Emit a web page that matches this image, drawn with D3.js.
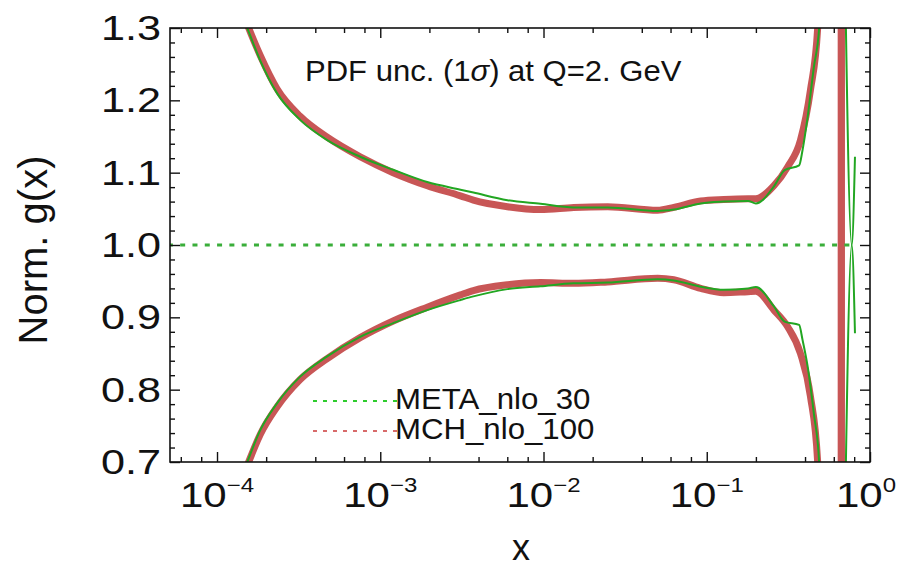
<!DOCTYPE html>
<html>
<head>
<meta charset="utf-8">
<script src="https://cdn.jsdelivr.net/npm/d3@7"></script>
<style>
  body { margin: 0; background: #fff; }
  svg { display: block; }
  text { font-family: "Liberation Sans", Arial, Helvetica, sans-serif; fill: #111; }
</style>
</head>
<body>
<svg id="chart" width="897" height="568"></svg>
<script>
// ---- data ----
const titleMain = "PDF unc. (1";
const titleSigma = "σ";
const titleRest = ") at Q=2. GeV";
const xAxisTitle = "x";
const yAxisTitle = "Norm. g(x)";
const seriesNames = ["META_nlo_30", "MCH_nlo_100"];

const xMajorTicks = [1e-4, 1e-3, 1e-2, 1e-1, 1];
const xTickExponents = ["−4", "−3", "−2", "−1", "0"];
const xMinorTicks = [6e-5, 8e-5, 2e-4, 4e-4, 6e-4, 8e-4, 2e-3, 4e-3, 6e-3, 8e-3,
                     2e-2, 4e-2, 6e-2, 8e-2, 0.2, 0.4, 0.6, 0.8];
const yMajorTicks = [0.7, 0.8, 0.9, 1.0, 1.1, 1.2, 1.3];
const yTickLabels = ["0.7", "0.8", "0.9", "1.0", "1.1", "1.2", "1.3"];

// META_nlo_30: upper / lower 1-sigma band edges (ratio to central)
const metaX = [1.40e-4, 1.55e-4, 1.84e-4, 2.33e-4, 3.23e-4, 4.73e-4, 7.53e-4, 1.20e-3,
               1.94e-3, 3.10e-3, 3.72e-3, 6.01e-3, 9.59e-3, 1.53e-2, 2.47e-2, 5.00e-2,
               6.28e-2, 9.18e-2, 0.127, 0.179, 0.200, 0.258, 0.300, 0.368, 0.386,
               0.415, 0.453, 0.488, 0.55, 0.62, 0.693, 0.773, 0.809];
const metaUpper = [1.322, 1.297, 1.255, 1.210, 1.173, 1.145, 1.122, 1.104,
                   1.087, 1.0765, 1.0725, 1.062, 1.057, 1.052, 1.052, 1.047,
                   1.049, 1.0575, 1.060, 1.061, 1.0575, 1.081, 1.1036, 1.110, 1.131,
                   1.177, 1.246, 1.300, 1.9, 2.4, 1.466, 1.000, 1.122];
const metaLower = [0.677, 0.703, 0.744, 0.781, 0.818, 0.846, 0.873, 0.892,
                   0.910, 0.924, 0.929, 0.939, 0.943, 0.947, 0.948, 0.9526,
                   0.951, 0.9424, 0.938, 0.940, 0.942, 0.915, 0.894, 0.8895, 0.869,
                   0.832, 0.767, 0.700, 0.1, -0.4, 0.534, 1.000, 0.878];
// META central value
const centralX = [5.0e-5, 0.773];
const centralY = [1.0, 1.0];

// MCH_nlo_100: upper / lower 1-sigma band edges
const mchX = [1.40e-4, 1.55e-4, 1.84e-4, 2.33e-4, 3.23e-4, 4.73e-4, 7.53e-4, 1.20e-3,
              1.94e-3, 3.10e-3, 3.72e-3, 6.01e-3, 9.59e-3, 1.53e-2, 2.47e-2, 5.00e-2,
              6.28e-2, 9.18e-2, 0.127, 0.179, 0.200, 0.258, 0.313, 0.375,
              0.4315, 0.478, 0.55, 0.62, 0.665, 0.670];
const mchUpper = [1.328, 1.302, 1.262, 1.216, 1.178, 1.149, 1.122, 1.100,
                  1.082, 1.068, 1.062, 1.053, 1.049, 1.052, 1.053, 1.048,
                  1.052, 1.061, 1.063, 1.064, 1.064, 1.082, 1.108, 1.145,
                  1.214, 1.300, 2.2, 3.5, 6.0, -5.0];
const mchLower = [0.672, 0.698, 0.738, 0.776, 0.814, 0.843, 0.872, 0.895,
                  0.914, 0.931, 0.937, 0.945, 0.948, 0.947, 0.949, 0.954,
                  0.952, 0.940, 0.934, 0.9355, 0.936, 0.910, 0.887, 0.850,
                  0.791, 0.700, -0.2, -1.5, -4.0, 7.0];

// ---- layout ----
const svg = d3.select("#chart");
const W = 897;
const L = 170, R = 870, T = 28, B = 462;
const green = "#22a622", red = "#c85757";

const x = d3.scaleLog().domain([Math.pow(10, -4.288), 1]).range([L, R]);
const y = d3.scaleLinear().domain([0.7, 1.3]).range([B, T]);

svg.append("defs").call(defs => {
  defs.append("clipPath").attr("id", "plotClip")
    .append("rect").attr("x", L).attr("y", T).attr("width", R - L).attr("height", B - T);
  defs.append("filter").attr("id", "soft").attr("x", "-5%").attr("y", "-5%")
    .attr("width", "110%").attr("height", "110%")
    .append("feGaussianBlur").attr("stdDeviation", 0.7);
});

const smooth = d3.line().curve(d3.curveMonotoneX).x(d => x(d[0])).y(d => y(d[1]));
const straight = d3.line().x(d => x(d[0])).y(d => y(d[1]));
const zip = (xs, ys) => xs.map((v, i) => [v, ys[i]]);

const plot = svg.append("g").attr("clip-path", "url(#plotClip)");

// MCH band edges (thick, soft)
const mchG = plot.append("g").attr("filter", "url(#soft)");
[mchUpper, mchLower].forEach(vals => {
  mchG.append("path").datum(zip(mchX, vals)).attr("d", smooth)
    .attr("fill", "none").attr("stroke", red).attr("stroke-width", 7)
    .attr("stroke-linejoin", "round").attr("stroke-linecap", "butt");
});

// META central (dotted) and band edges (thin)
plot.append("path").datum(zip(centralX, centralY)).attr("d", straight)
  .attr("fill", "none").attr("stroke", "#3aae3a").attr("stroke-width", 3)
  .attr("stroke-dasharray", "5,7.3");
[metaUpper, metaLower].forEach(vals => {
  plot.append("path").datum(zip(metaX, vals)).attr("d", smooth)
    .attr("fill", "none").attr("stroke", green).attr("stroke-width", 2)
    .attr("stroke-linejoin", "round");
});

// ---- axes (ticks point inward on all four sides) ----
function tickAxis(axisFn, scale, values, size, tx, ty) {
  const g = svg.append("g").attr("transform", `translate(${tx},${ty})`)
    .call(axisFn(scale).tickValues(values).tickSize(size).tickFormat(""));
  g.select(".domain").remove();
  g.selectAll(".tick line").attr("stroke", "#111").attr("stroke-width", 1.4);
}
tickAxis(d3.axisBottom, x, xMajorTicks, -10, 0, B);
tickAxis(d3.axisBottom, x, xMinorTicks, -5, 0, B);
tickAxis(d3.axisTop, x, xMajorTicks, -10, 0, T);
tickAxis(d3.axisTop, x, xMinorTicks, -5, 0, T);
const yMinor = d3.range(0.72, 1.3, 0.02).filter(v => Math.abs((v * 10) - Math.round(v * 10)) > 1e-6);
tickAxis(d3.axisLeft, y, yMajorTicks, -10, L, 0);
tickAxis(d3.axisLeft, y, yMinor, -5, L, 0);
tickAxis(d3.axisRight, y, yMajorTicks, -10, R, 0);
tickAxis(d3.axisRight, y, yMinor, -5, R, 0);

svg.append("rect").attr("x", L).attr("y", T).attr("width", R - L).attr("height", B - T)
  .attr("fill", "none").attr("stroke", "#111").attr("stroke-width", 1.6);

// ---- tick labels ----
yMajorTicks.forEach((v, i) => {
  svg.append("g").attr("transform", `translate(161,${y(v) + 12}) scale(1.2,1)`)
    .append("text").attr("text-anchor", "end").attr("font-size", 36).text(yTickLabels[i]);
});
xMajorTicks.forEach((v, i) => {
  const sx = 1.2;
  const g = svg.append("g");
  const t = g.append("text").attr("text-anchor", "middle").attr("font-size", 35);
  t.append("tspan").text("10");
  t.append("tspan").attr("font-size", 20).attr("dy", -15).text(xTickExponents[i]);
  // keep the label inside the canvas at the right edge
  const bb = t.node().getBBox();
  let cx = x(v);
  const rightEdge = cx + (bb.x + bb.width) * sx;
  if (rightEdge > W - 1) cx -= rightEdge - (W - 1);
  g.attr("transform", `translate(${cx},507) scale(${sx},1)`);
});

// ---- axis titles ----
svg.append("text").attr("x", 521).attr("y", 560).attr("text-anchor", "middle")
  .attr("font-size", 36).text(xAxisTitle);
svg.append("text").attr("transform", "translate(47,250) rotate(-90)")
  .attr("text-anchor", "middle").attr("font-size", 40).text(yAxisTitle);

// ---- plot label ----
const title = svg.append("g").attr("transform", "translate(305,81) scale(1.07,1)")
  .append("text").attr("font-size", 29);
title.append("tspan").text(titleMain);
title.append("tspan").attr("font-style", "italic").text(titleSigma);
title.append("tspan").text(titleRest);

// ---- legend ----
const legendColors = ["#2ecc2e", "#d86a6a"];
const legendWidths = [2.2, 1.8];
seriesNames.forEach((name, i) => {
  const ly = 401 + i * 30;
  svg.append("line").attr("x1", 313).attr("x2", 398).attr("y1", ly).attr("y2", ly)
    .attr("stroke", legendColors[i]).attr("stroke-width", legendWidths[i])
    .attr("stroke-dasharray", "4,6");
  svg.append("g").attr("transform", `translate(395,${ly + 7.5}) scale(1.04,1)`)
    .append("text").attr("font-size", 30).text(name);
});
</script>
</body>
</html>
